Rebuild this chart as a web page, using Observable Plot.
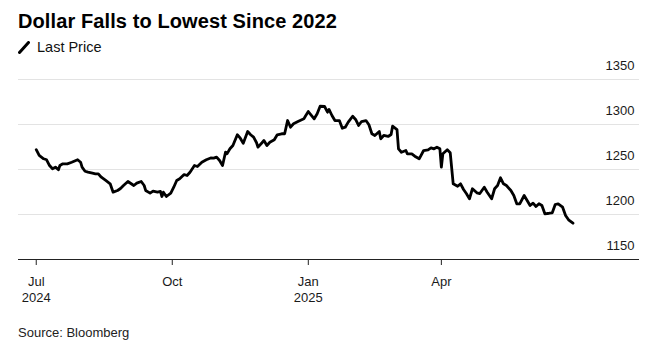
<!DOCTYPE html>
<html>
<head>
<meta charset="utf-8">
<script src="https://cdn.jsdelivr.net/npm/d3@7"></script>
<script src="https://cdn.jsdelivr.net/npm/@observablehq/plot@0.6"></script>
<style>
  html, body { margin: 0; padding: 0; background: #fff; }
  #wrap { position: relative; width: 668px; height: 354px; font-family: "Liberation Sans", Arial, Helvetica, sans-serif; color: #000; overflow: hidden; }
  #title { position: absolute; left: 18px; top: 11px; font-size: 20px; line-height: 20px; font-weight: bold; letter-spacing: 0.1px; white-space: nowrap; }
  #legend { position: absolute; left: 18px; top: 40px; font-size: 14.5px; line-height: 14.5px; white-space: nowrap; display: flex; align-items: center; color: #111; }
  #legend svg { margin-right: 7px; }
  #chart { position: absolute; left: 0; top: 58px; }
  #caption { position: absolute; left: 18px; top: 326px; font-size: 13px; line-height: 13px; color: #222; white-space: nowrap; }
</style>
</head>
<body>
<div id="wrap">
  <div id="title">Dollar Falls to Lowest Since 2022</div>
  <div id="legend"><svg width="12" height="13" viewBox="0 0 12 13"><line x1="1.5" y1="11.5" x2="10.5" y2="1.5" stroke="#000" stroke-width="3" stroke-linecap="round"/></svg><span>Last Price</span></div>
  <div id="chart"></div>
  <div id="caption">Source: Bloomberg</div>
</div>
<script>
const dates = [
  "2024-07-01","2024-07-03","2024-07-06","2024-07-08","2024-07-10","2024-07-12","2024-07-14","2024-07-16","2024-07-17","2024-07-19",
  "2024-07-22","2024-07-25","2024-07-29","2024-07-31","2024-08-01","2024-08-03","2024-08-05","2024-08-08","2024-08-10","2024-08-12",
  "2024-08-14","2024-08-17","2024-08-20","2024-08-22","2024-08-25","2024-08-27","2024-08-29","2024-09-01","2024-09-05","2024-09-07",
  "2024-09-10","2024-09-12","2024-09-13","2024-09-16","2024-09-18","2024-09-21","2024-09-23","2024-09-24","2024-09-25","2024-09-27",
  "2024-09-30","2024-10-02","2024-10-04","2024-10-06","2024-10-09","2024-10-11","2024-10-13","2024-10-16","2024-10-18","2024-10-21",
  "2024-10-24","2024-10-27","2024-10-29","2024-10-31","2024-11-02","2024-11-04","2024-11-06","2024-11-07","2024-11-09","2024-11-11",
  "2024-11-14","2024-11-16","2024-11-18","2024-11-21","2024-11-23","2024-11-25","2024-11-27","2024-11-28","2024-12-01","2024-12-02",
  "2024-12-04","2024-12-06","2024-12-09","2024-12-11","2024-12-14","2024-12-16","2024-12-18","2024-12-20","2024-12-22","2024-12-25",
  "2024-12-29","2024-12-30","2025-01-01","2025-01-05","2025-01-07","2025-01-09","2025-01-12","2025-01-14","2025-01-15","2025-01-17",
  "2025-01-19","2025-01-22","2025-01-24","2025-01-26","2025-01-28","2025-01-31","2025-02-02","2025-02-04","2025-02-06","2025-02-09",
  "2025-02-11","2025-02-13","2025-02-15","2025-02-18","2025-02-19","2025-02-21","2025-02-24","2025-02-26","2025-02-27","2025-03-02",
  "2025-03-03","2025-03-05","2025-03-08","2025-03-09","2025-03-12","2025-03-14","2025-03-17","2025-03-20","2025-03-23","2025-03-25",
  "2025-03-27","2025-03-29","2025-03-31","2025-04-01","2025-04-02","2025-04-05","2025-04-07","2025-04-09","2025-04-12","2025-04-14",
  "2025-04-16","2025-04-18","2025-04-20","2025-04-22","2025-04-25","2025-04-27","2025-04-30","2025-05-02","2025-05-05","2025-05-07",
  "2025-05-09","2025-05-11","2025-05-13","2025-05-15","2025-05-18","2025-05-20","2025-05-22","2025-05-24","2025-05-27","2025-05-29",
  "2025-05-31","2025-06-02","2025-06-04","2025-06-06","2025-06-08","2025-06-10","2025-06-13","2025-06-15","2025-06-17","2025-06-19",
  "2025-06-22","2025-06-24","2025-06-26","2025-06-29"
];
const values = [
  1272,1265.6,1261.9,1260.8,1254.4,1250.8,1252.6,1249.7,1254.4,1256.3,
  1256.3,1258.1,1260.8,1258.1,1252.6,1248.1,1247,1245.9,1245.2,1245.2,
  1241.4,1237.8,1234.1,1224.8,1226.7,1228.9,1232.2,1236.7,1232.2,1234.8,
  1236.7,1232.2,1226.7,1223.7,1225.9,1224.8,1225.6,1220,1224.8,1220,
  1223.7,1230.3,1237.8,1239.7,1244.4,1243.3,1247,1254.4,1253.3,1258.1,
  1260.8,1262.8,1262.6,1263.7,1260,1254.4,1269.2,1267.4,1273,1276.7,
  1288.6,1284.8,1279.2,1292.2,1288.6,1285.9,1279.7,1274.8,1280.3,1282.2,
  1276.7,1280.3,1283,1288.6,1289.7,1289.7,1304.4,1297,1300.8,1303.3,
  1306.3,1309.2,1314.4,1306.3,1311.9,1320.3,1320,1313.7,1316.7,1310,
  1304.4,1304.4,1295.9,1297,1302.6,1309.2,1305.6,1298.9,1303.3,1304.4,
  1299.7,1289.7,1287.8,1292.2,1284.1,1287.8,1286.7,1288.9,1298.1,1294.4,
  1273,1269.2,1271.1,1267.4,1267.4,1264.8,1261.9,1271.1,1271.9,1274.1,
  1273,1274.8,1273,1252.6,1267.4,1271.9,1268.6,1234.1,1231.4,1234.1,
  1227.8,1223,1217.4,1228.6,1224.1,1223.3,1230.3,1224.8,1217.4,1228.6,
  1232.2,1240.8,1234.1,1232.2,1226.7,1221.1,1211.9,1211.9,1221.1,1215.6,
  1210,1212.6,1208.9,1211.9,1210,1200.8,1201.4,1201.9,1211.1,1211.9,
  1208.1,1198.9,1194.1,1190.3
];
const xDomain = ["2024-06-19", "2025-08-13"];
const xTicks = ["2024-07-01", "2024-10-01", "2025-01-01", "2025-04-01"];
const xTickLabels = ["Jul\n2024", "Oct", "Jan\n2025", "Apr"];
const yTicks = [1150, 1200, 1250, 1300, 1350];
const yGrid = [1200, 1250, 1300, 1350];

const data = dates.map((d, i) => ({ date: new Date(d), value: values[i] }));

const chart = Plot.plot({
  width: 668,
  height: 262,
  marginLeft: 18,
  marginRight: 29,
  marginTop: 21,
  marginBottom: 61,
  style: { fontFamily: "'Liberation Sans', Arial, Helvetica, sans-serif", fontSize: "13px", color: "#1a1a1a", background: "#fff" },
  x: { type: "utc", domain: xDomain.map(d => new Date(d)) },
  y: { domain: [1150, 1350] },
  marks: [
    Plot.ruleY(yGrid, { stroke: "#e3e3e3", strokeWidth: 1 }),
    Plot.ruleY([1150], { stroke: "#222", strokeWidth: 1 }),
    Plot.axisY({ anchor: "right", ticks: yTicks, tickFormat: d => String(d), tickSize: 0, tickPadding: 0, textAnchor: "end", dx: -5, dy: -13.5, label: null }),
    Plot.axisX({ ticks: xTicks.map(d => new Date(d)), tickFormat: (d, i) => xTickLabels[i], tickSize: 6, tickPadding: 8, lineHeight: 1.3, label: null, stroke: "#222" }),
    Plot.line(data, { x: "date", y: "value", stroke: "#000", strokeWidth: 2.8, strokeLinejoin: "round", strokeLinecap: "round" })
  ]
});
document.getElementById("chart").appendChild(chart);
</script>
</body>
</html>
